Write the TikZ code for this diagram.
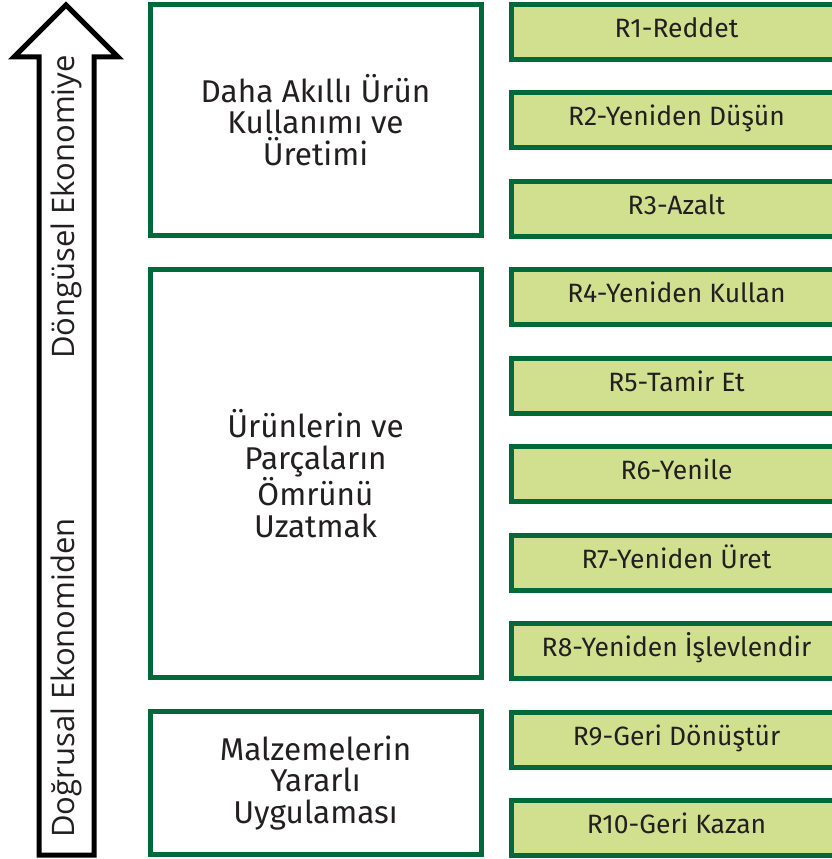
\documentclass[tikz,border=0pt]{standalone}
\usepackage{fontspec}
\setmainfont{Fira Sans}
\newfontfamily\arrowfont{Open Sans}
\usetikzlibrary{positioning}
\definecolor{rgreen}{HTML}{00693A}
\definecolor{rlime}{HTML}{D1E08F}
\definecolor{rtext}{HTML}{231F20}

\begin{document}
\begin{tikzpicture}[x=1pt, y=-1pt]
\tikzstyle{stage} = [rectangle, draw=rgreen, line width=5pt, fill=white, text=rtext, align=center, minimum width=331pt, inner sep=0pt, font=\fontsize{31.5}{31.7}\selectfont]
\tikzstyle{rstep} = [rectangle, draw=rgreen, line width=5pt, fill=rlime, text=rtext, minimum width=331pt, minimum height=55pt, inner sep=0pt, text height=18pt, text depth=7pt, font=\fontsize{26.5}{30}\selectfont]
\tikzstyle{flow} = [text=rtext, rotate=90, inner sep=0pt, font=\arrowfont\fontsize{31}{36}\selectfont]

\useasboundingbox (0,0) rectangle (832,859);

% arrow
\draw[line width=5pt, miter limit=10] (39,855) -- (39,57) -- (14,57) -- (66,5) -- (118,57) -- (94,57) -- (94,855) -- cycle;
\node (linear) [flow] at (66,678) {Doğrusal Ekonomiden};
\node (circular) [flow] at (66,207) {Döngüsel Ekonomiye};

% left stages
\node (smart) [stage, minimum height=231pt] at (315.5,120) {Daha Akıllı Ürün\\Kullanımı ve\\Üretimi};
\node (extend) [stage, minimum height=408pt] at (315.5,473.5) {Ürünlerin ve\\Parçaların\\Ömrünü\\Uzatmak};
\node (material) [stage, minimum height=143pt] at (315.5,783) {Malzemelerin\\Yararlı\\Uygulaması};

% R strategies
\foreach \i/\label in {1/R1-Reddet, 2/R2-Yeniden Düşün, 3/R3-Azalt, 4/R4-Yeniden Kullan, 5/R5-Tamir Et, 6/R6-Yenile, 7/R7-Yeniden Üret, 8/R8-Yeniden İşlevlendir, 9/R9-Geri Dönüştür, 10/R10-Geri Kazan} {
    \node (r\i) [rstep] at (676.5, {32+(\i-1)*88.44}) {\label};
}

\end{tikzpicture}
\end{document}
